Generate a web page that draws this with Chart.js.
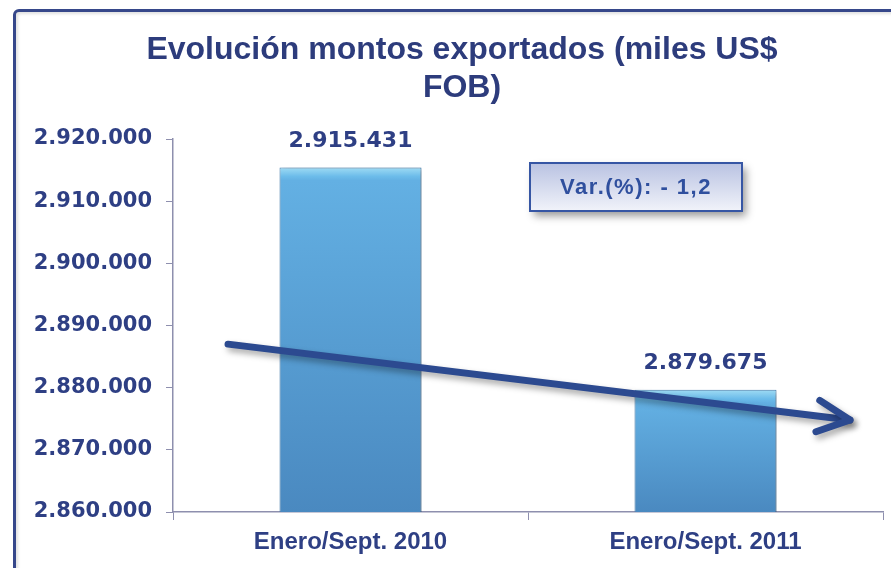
<!DOCTYPE html>
<html lang="es">
<head>
    <meta charset="UTF-8">
    <title>Evolución montos exportados</title>
    <style>
        body { margin: 0; background: #fff; }
        #wrap { position: relative; width: 891px; height: 568px; overflow: hidden; }
        #frame { position: absolute; left: 13px; top: 9px; width: 920px; height: 620px; border: 3px solid #36478A; border-radius: 6px 0 0 0; box-shadow: inset 2px 2px 3px rgba(0,0,0,0.12); }
        canvas { position: absolute; left: 0; top: 0; }
    </style>
    <script src="https://cdn.jsdelivr.net/npm/chart.js"></script>
</head>
<body>
<div id="wrap">
    <div id="frame"></div>
    <canvas id="grafico" width="891" height="568"></canvas>
</div>
<script>
    // datos del gráfico
    const titulo = ["Evolución montos exportados (miles US$", "FOB)"];
    const categorias = ["Enero/Sept. 2010", "Enero/Sept. 2011"];
    const montos = [2915431, 2879675];
    const ejeMin = 2860000;
    const ejeMax = 2920000;
    const ejePaso = 10000;
    const variacion = "Var.(%): - 1,2";
    // flecha de tendencia (índice de categoría, valor)
    const tendenciaX = [-0.345, 1.407];
    const tendenciaY = [2887000, 2874800];

    const azulTexto = "#2E3F84";

    function conPuntos(v) {
        return String(Math.round(v)).replace(/\B(?=(\d{3})+(?!\d))/g, ".");
    }

    function degradadoBarra(ctx) {
        const chart = ctx.chart;
        if (!chart.chartArea) return "#5DA9DE";
        const y = chart.scales.y;
        const top = y.getPixelForValue(montos[ctx.dataIndex]);
        const bottom = chart.chartArea.bottom;
        const h = Math.max(bottom - top, 1);
        const g = chart.ctx.createLinearGradient(0, top, 0, bottom);
        g.addColorStop(0, "#A0DCF4");
        g.addColorStop(Math.min(9 / h, 0.5), "#6CBCEA");
        g.addColorStop(Math.min(13 / h, 0.6), "#63B0E3");
        g.addColorStop(1, "#4A89C0");
        return g;
    }

    const sombraBarras = {
        id: "sombraBarras",
        beforeDatasetsDraw(chart) {
            const c = chart.ctx;
            c.save();
            c.shadowColor = "rgba(0,0,0,0.35)";
            c.shadowBlur = 5;
            c.shadowOffsetX = 2;
            c.shadowOffsetY = 2;
        },
        afterDatasetsDraw(chart) {
            chart.ctx.restore();
        }
    };

    const extras = {
        id: "extras",
        afterDraw(chart) {
            const c = chart.ctx;
            const ca = chart.chartArea;
            const xs = chart.scales.x;
            const ys = chart.scales.y;

            // título
            c.save();
            c.font = "bold 32px 'Liberation Sans', Arial, sans-serif";
            c.fillStyle = "#2D3C7C";
            c.textAlign = "center";
            c.textBaseline = "middle";
            c.fillText(titulo[0], 462, 50);
            c.fillText(titulo[1], 462, 88);
            c.restore();

            // etiquetas de valores
            c.save();
            c.font = "bold 22px 'DejaVu Sans', sans-serif";
            c.fillStyle = azulTexto;
            c.textAlign = "center";
            c.textBaseline = "middle";
            chart.getDatasetMeta(0).data.forEach((bar, i) => {
                c.fillText(conPuntos(montos[i]), bar.x, bar.y - 26);
            });
            c.restore();

            // recuadro de variación
            const bx = ca.left + 357, by = ca.top + 24, bw = 212, bh = 48;
            c.save();
            c.shadowColor = "rgba(0,0,0,0.4)";
            c.shadowBlur = 8;
            c.shadowOffsetX = 4;
            c.shadowOffsetY = 5;
            const g = c.createLinearGradient(0, by, 0, by + bh);
            g.addColorStop(0, "#B9C2E2");
            g.addColorStop(1, "#F1F3FA");
            c.fillStyle = g;
            c.fillRect(bx, by, bw, bh);
            c.shadowColor = "transparent";
            c.lineWidth = 2;
            c.strokeStyle = "#3656A4";
            c.strokeRect(bx, by, bw, bh);
            c.font = "bold 22px 'Liberation Sans', Arial, sans-serif";
            c.letterSpacing = "1.5px";
            c.fillStyle = "#2F4F9E";
            c.textAlign = "center";
            c.textBaseline = "middle";
            c.fillText(variacion, bx + bw / 2, by + bh / 2 + 1);
            c.restore();

            // flecha de tendencia
            const x0 = xs.getPixelForValue(tendenciaX[0]);
            const y0 = ys.getPixelForValue(tendenciaY[0]);
            const x1 = xs.getPixelForValue(tendenciaX[1]);
            const y1 = ys.getPixelForValue(tendenciaY[1]);
            const ang = Math.atan2(y0 - y1, x0 - x1);
            const largo = 36, abre = 26 * Math.PI / 180;
            c.save();
            c.shadowColor = "rgba(0,0,0,0.35)";
            c.shadowBlur = 6;
            c.shadowOffsetX = 3;
            c.shadowOffsetY = 4;
            c.strokeStyle = "#2C4A90";
            c.lineWidth = 7;
            c.lineCap = "round";
            c.lineJoin = "round";
            c.beginPath();
            c.moveTo(x0, y0);
            c.lineTo(x1, y1);
            c.stroke();
            c.beginPath();
            c.moveTo(x1 + largo * Math.cos(ang - abre), y1 + largo * Math.sin(ang - abre));
            c.lineTo(x1, y1);
            c.lineTo(x1 + largo * Math.cos(ang + abre), y1 + largo * Math.sin(ang + abre));
            c.stroke();
            c.restore();
        }
    };

    const ctx = document.getElementById("grafico").getContext("2d");
    new Chart(ctx, {
        type: "bar",
        data: {
            labels: categorias,
            datasets: [{
                data: montos,
                backgroundColor: degradadoBarra,
                borderColor: "#4A84B6",
                borderWidth: 1,
                barPercentage: 0.4,
                categoryPercentage: 1
            }]
        },
        options: {
            responsive: false,
            animation: false,
            layout: { padding: { left: 12, right: 8, top: 139, bottom: 14 } },
            plugins: {
                legend: { display: false },
                tooltip: { enabled: false },
                title: { display: false }
            },
            scales: {
                x: {
                    grid: { drawOnChartArea: false, tickLength: 8, tickColor: "#8E8FAE" },
                    border: { color: "#8E8FAE", width: 1.5 },
                    ticks: {
                        color: azulTexto,
                        padding: 8,
                        font: { family: "'Liberation Sans', Arial, sans-serif", size: 24, weight: "bold" }
                    },
                    afterFit(scale) { scale.height = 42; }
                },
                y: {
                    min: ejeMin,
                    max: ejeMax,
                    grid: { drawOnChartArea: false, tickLength: 7, tickColor: "#8E8FAE" },
                    border: { color: "#8E8FAE", width: 1.5 },
                    ticks: {
                        stepSize: ejePaso,
                        color: azulTexto,
                        padding: 14,
                        font: { family: "'DejaVu Sans', sans-serif", size: 21, weight: "bold" },
                        callback: v => conPuntos(v)
                    },
                    afterFit(scale) { scale.width = 161; }
                }
            }
        },
        plugins: [sombraBarras, extras]
    });
</script>
</body>
</html>
